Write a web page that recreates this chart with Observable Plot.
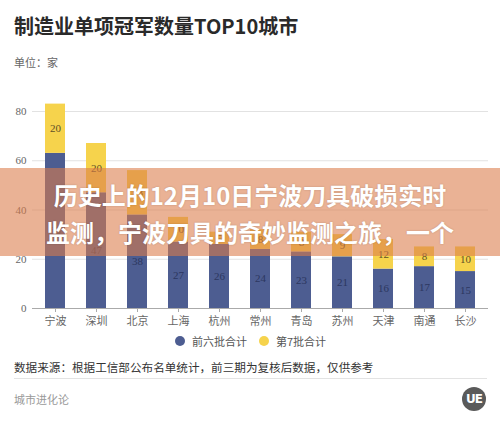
<!DOCTYPE html>
<html>
<head>
<meta charset="utf-8">
<script src="https://cdn.jsdelivr.net/npm/d3@7"></script>
<script src="https://cdn.jsdelivr.net/npm/@observablehq/plot@0.6"></script>
<style>
  html, body { margin: 0; padding: 0; background: #fff; }
  #wrap { position: relative; width: 500px; height: 425px; overflow: hidden; background: #fff;
          font-family: "Noto Sans CJK SC", sans-serif; }
  .abs { position: absolute; white-space: nowrap; }
  #title { left: 14px; top: 12px; font-size: 20px; font-weight: 700; color: #2a2a2a; line-height: 28px; }
  #unit { left: 14px; top: 54px; font-size: 11px; color: #666; line-height: 16px; }
  #chart { position: absolute; left: 0; top: 70px; }
  #legend { left: 0; top: 332px; width: 500px; height: 18px; }
  .lg { position: absolute; top: 0; font-size: 11px; color: #555; line-height: 18px; }
  .dot { position: absolute; width: 10px; height: 10px; border-radius: 50%; top: 4px; }
  #source { left: 14px; top: 358px; font-size: 11.6px; color: #333; line-height: 18px; }
  #hr { left: 14px; top: 378px; width: 473px; height: 1px; background: #e3e3e3; }
  #brand { left: 14px; top: 391px; font-size: 11px; color: #999; line-height: 16px; }
  #logo { left: 462px; top: 387px; width: 24px; height: 24px; border-radius: 50%; background: #5a5a5a;
          color: #fff; font-family: "DejaVu Sans", sans-serif; font-weight: 700; font-size: 12px;
          text-align: center; line-height: 24px; letter-spacing: -1px; }
  #banner { left: 0; top: 168px; width: 500px; height: 88px; background: rgba(219,124,74,0.59);
            text-align: center; color: #fff; font-weight: 700; font-size: 24px; line-height: 37px;
            padding-top: 8px; box-sizing: border-box; text-shadow: 0 0 2px rgba(0,0,0,0.2); }
</style>
</head>
<body>
<div id="wrap">
  <div id="title" class="abs">制造业单项冠军数量TOP10城市</div>
  <div id="unit" class="abs">单位：家</div>
  <div id="chart"></div>
  <div id="legend" class="abs"></div>
  <div id="source" class="abs">数据来源：根据工信部公布名单统计，前三期为复核后数据，仅供参考</div>
  <div id="hr" class="abs"></div>
  <div id="brand" class="abs">城市进化论</div>
  <div id="logo" class="abs">UE</div>
  <div id="banner" class="abs">历史上的12月10日宁波刀具破损实时<br>监测，宁波刀具的奇妙监测之旅，一个</div>
</div>
<script>
const cities = ["宁波","深圳","北京","上海","杭州","常州","青岛","苏州","天津","南通","长沙"];
const firstSix = [63, 47, 38, 27, 26, 24, 23, 21, 16, 17, 15];
const seventh = [20, 20, 18, 10, 5, 8, 8, 9, 12, 8, 10];
const seriesNames = ["前六批合计", "第7批合计"];
const seriesColors = ["#4d5d91", "#f6d34c"];
const labelColors = ["#2c3760", "#5e5028"];
const yTicks = [0, 20, 40, 60, 80];

const rows = [];
cities.forEach((c, i) => rows.push({city: c, series: seriesNames[0], value: firstSix[i]}));
cities.forEach((c, i) => rows.push({city: c, series: seriesNames[1], value: seventh[i]}));

const numFont = "'Liberation Serif', 'Noto Sans CJK SC', serif";

const chart = Plot.plot({
  width: 500,
  height: 262,
  marginLeft: 32,
  marginRight: 12,
  marginTop: 41,
  marginBottom: 24,
  style: {fontFamily: numFont, fontSize: "11px", color: "#666", background: "transparent"},
  x: {domain: cities, paddingInner: 0.517, paddingOuter: 0.266, label: null},
  y: {domain: [0, 80], label: null},
  color: {domain: seriesNames, range: seriesColors},
  marks: [
    Plot.gridY(yTicks.filter(d => d > 0), {stroke: "#e2e2e2", strokeOpacity: 1}),
    Plot.barY(rows, {x: "city", y: "value", fill: "series", order: seriesNames}),
    Plot.text(rows, Plot.stackY({x: "city", y: "value", z: "series", order: seriesNames, text: d => String(d.value),
      fill: d => labelColors[seriesNames.indexOf(d.series)], fontSize: 11, fontFamily: numFont})),
    Plot.ruleY([0], {stroke: "#aaa"}),
    Plot.axisY({ticks: yTicks, tickSize: 0, tickPadding: 6, label: null, fill: "#666", fontSize: 11}),
    Plot.axisX({tickSize: 4, tickPadding: 5, label: null, stroke: "#aaa", fill: "#666", fontSize: 11,
      fontFamily: "'Noto Sans CJK SC', sans-serif"})
  ]
});
document.getElementById("chart").appendChild(chart);

// legend built from series arrays
const legend = document.getElementById("legend");
const legendX = [175, 259];
seriesNames.forEach((name, i) => {
  const dot = document.createElement("div");
  dot.className = "dot";
  dot.style.left = legendX[i] + "px";
  dot.style.background = seriesColors[i];
  legend.appendChild(dot);
  const t = document.createElement("div");
  t.className = "lg";
  t.style.left = (legendX[i] + 17) + "px";
  t.textContent = name;
  legend.appendChild(t);
});
</script>
</body>
</html>
